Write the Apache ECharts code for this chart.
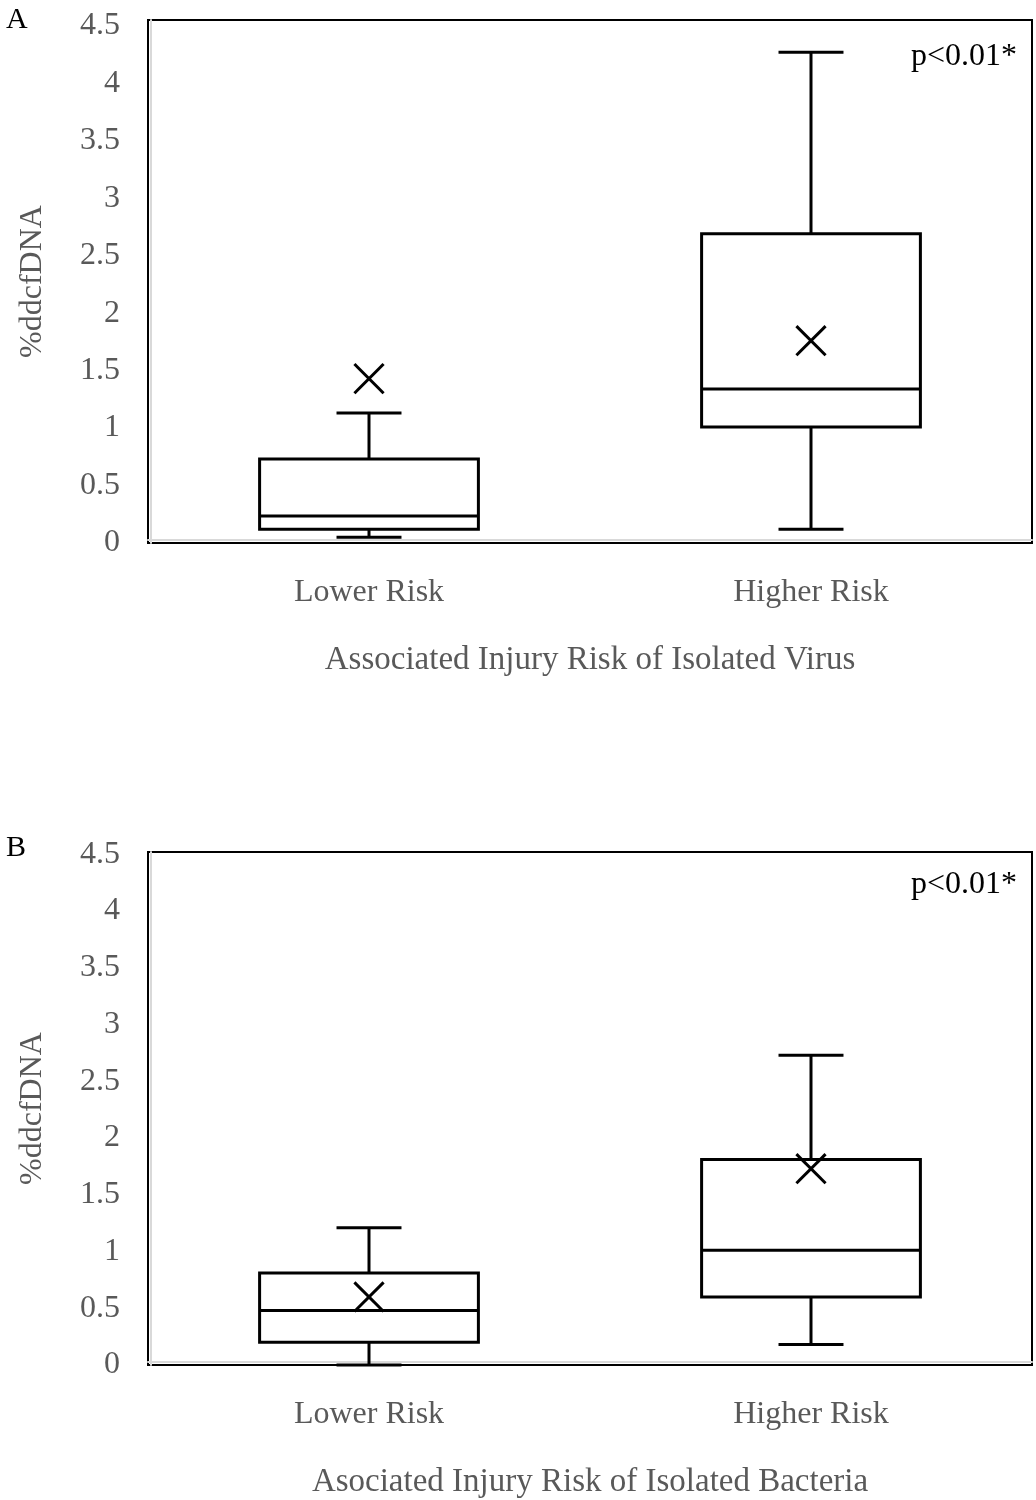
<!DOCTYPE html>
<html>
<head>
<meta charset="utf-8">
<script src="https://cdn.jsdelivr.net/npm/echarts@6/dist/echarts.min.js"></script>
<style>html,body{margin:0;padding:0;background:#fff}#c{width:1036px;height:1500px}</style>
</head>
<body>
<div id="c"></div>
<script>
// Data
const categories = ['Lower Risk', 'Higher Risk'];
// [min, Q1, median, Q3, max, mean]
const virusLower  = [0.05, 0.12, 0.235, 0.73, 1.13, 1.43];
const virusHigher = [0.12, 1.01, 1.34, 2.69, 4.27, 1.76];
const bactLower   = [0.00, 0.20, 0.48, 0.81, 1.21, 0.60];
const bactHigher  = [0.18, 0.60, 1.01, 1.81, 2.73, 1.73];
const yTicks = [0, 0.5, 1, 1.5, 2, 2.5, 3, 3.5, 4, 4.5];
const titleA = 'Associated Injury Risk of Isolated Virus';
const titleB = 'Asociated Injury Risk of Isolated Bacteria';
const yName = '%ddcfDNA';
const pText = 'p<0.01*';

const FONT = '"Liberation Serif", "Times New Roman", serif';
const GRAY = '#595959';

function renderBox(params, api) {
  const x = api.value(0);
  const lo = api.coord([x, api.value(1)]);
  const q1 = api.coord([x, api.value(2)]);
  const med = api.coord([x, api.value(3)]);
  const q3 = api.coord([x, api.value(4)]);
  const hi = api.coord([x, api.value(5)]);
  const mean = api.coord([x, api.value(6)]);
  const band = api.size([1, 0])[0];
  const bw = band * 0.495;
  const cw = band * 0.147;
  const xs = band * 0.033;
  const cx = lo[0];
  const st = {stroke: '#000', lineWidth: 3, fill: null};
  const line = (x1, y1, x2, y2) => ({type: 'line', shape: {x1, y1, x2, y2}, style: st});
  return {
    type: 'group',
    children: [
      line(cx, hi[1], cx, q3[1]),
      line(cx, q1[1], cx, lo[1]),
      line(cx - cw / 2, hi[1], cx + cw / 2, hi[1]),
      line(cx - cw / 2, lo[1], cx + cw / 2, lo[1]),
      {type: 'rect', shape: {x: cx - bw / 2, y: q3[1], width: bw, height: q1[1] - q3[1]}, style: {stroke: '#000', lineWidth: 3, fill: '#fff'}},
      line(cx - bw / 2, med[1], cx + bw / 2, med[1]),
      line(cx - xs, mean[1] - xs, cx + xs, mean[1] + xs),
      line(cx - xs, mean[1] + xs, cx + xs, mean[1] - xs)
    ]
  };
}

function rows(a, b) {
  return [[0].concat(a), [1].concat(b)];
}

function xAxisCfg(gi, name) {
  return {
    type: 'category', gridIndex: gi, data: categories, offset: -3,
    axisLine: {show: true, lineStyle: {color: '#d9d9d9', width: 2}},
    axisTick: {show: false},
    axisLabel: {color: GRAY, fontSize: 32, fontFamily: FONT, margin: 37},
    name: name, nameLocation: 'middle', nameGap: 104,
    nameTextStyle: {color: GRAY, fontSize: 33, fontFamily: FONT}
  };
}
function yAxisCfg(gi, max) {
  return {
    type: 'value', gridIndex: gi, min: 0, max: max, interval: 0.5, offset: -3,
    axisLine: {show: true, lineStyle: {color: '#d9d9d9', width: 2}},
    axisTick: {show: false}, splitLine: {show: false},
    axisLabel: {color: GRAY, fontSize: 32, fontFamily: FONT, margin: 31, showMaxLabel: false,
      formatter: v => (yTicks.indexOf(v) >= 0 ? String(v) : '')},
    name: yName, nameLocation: 'middle', nameGap: 102,
    nameTextStyle: {color: GRAY, fontSize: 32, fontFamily: FONT}
  };
}

const chart = echarts.init(document.getElementById('c'), null, {renderer: 'canvas'});
chart.setOption({
  animation: false,
  backgroundColor: '#fff',
  title: [
    {text: 'A', left: 1, top: 0, textStyle: {color: '#000', fontSize: 30, fontWeight: 'normal', fontFamily: FONT}},
    {text: 'B', left: 1, top: 828, textStyle: {color: '#000', fontSize: 30, fontWeight: 'normal', fontFamily: FONT}},
    {text: pText, right: 14, top: 36, textStyle: {color: '#000', fontSize: 32, fontWeight: 'normal', fontFamily: FONT}},
    {text: pText, right: 14, top: 864, textStyle: {color: '#000', fontSize: 32, fontWeight: 'normal', fontFamily: FONT}}
  ],
  grid: [
    {left: 148, top: 20, width: 884, height: 523, show: true, borderColor: '#000', borderWidth: 2, backgroundColor: 'transparent'},
    {left: 148, top: 852, width: 884, height: 513, show: true, borderColor: '#000', borderWidth: 2, backgroundColor: 'transparent'}
  ],
  xAxis: [xAxisCfg(0, titleA), xAxisCfg(1, titleB)],
  yAxis: [yAxisCfg(0, 4.55), yAxisCfg(1, 4.52)],
  series: [
    {type: 'custom', xAxisIndex: 0, yAxisIndex: 0, renderItem: renderBox, data: rows(virusLower, virusHigher), encode: {x: 0, y: [1, 2, 3, 4, 5, 6]}},
    {type: 'custom', xAxisIndex: 1, yAxisIndex: 1, renderItem: renderBox, data: rows(bactLower, bactHigher), encode: {x: 0, y: [1, 2, 3, 4, 5, 6]}}
  ]
});
</script>
</body>
</html>
